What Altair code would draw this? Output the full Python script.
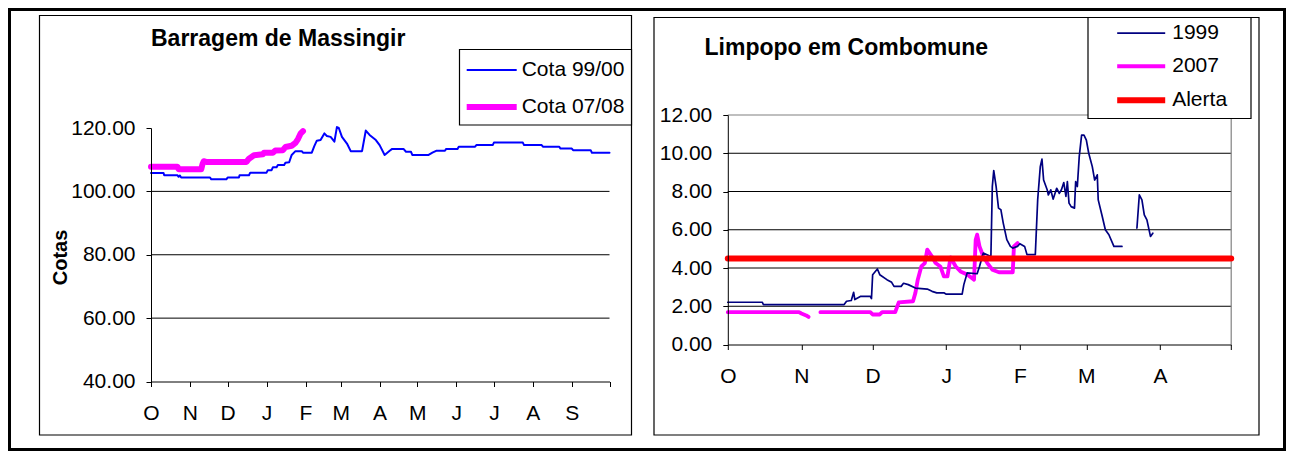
import json
import altair as alt
import pandas as pd

FONT = "Liberation Sans"

# ---------------- data : Barragem de Massingir (days from 1 Oct) ----------------
TITLE_LEFT = "Barragem de Massingir"
mass_month_labels = ["O", "N", "D", "J", "F", "M", "A", "M", "J", "J", "A", "S", ""]
mass_month_start = [0, 31, 61, 92, 123, 151, 182, 212, 243, 273, 304, 335, 365]
mass_y_ticks = [40, 60, 80, 100, 120]
mass_grid = [60, 80, 100]
mass_series = ["Cota 99/00", "Cota 07/08"]

cota9900_day = [0, 10, 10.5, 21, 22, 23, 24, 47, 48, 60, 61, 70, 70.5, 78, 79, 92, 93, 96, 97, 100,
                101, 106, 107, 110, 112, 115, 120, 121, 128, 130, 132, 135, 138, 140, 143, 146, 148,
                149.5, 152, 156, 159, 168, 171, 174, 179, 182, 186, 190, 192, 201, 203, 207, 208, 221,
                224, 227, 234, 235, 244, 245, 258, 259, 272, 273, 296, 297, 311, 312, 325, 326, 335,
                336, 350, 351, 365]
cota9900_val = [105.8, 105.8, 105.1, 105.1, 104.6, 105.0, 104.4, 104.4, 103.8, 103.8, 104.4, 104.4,
                105.1, 105.1, 105.9, 105.9, 106.7, 106.7, 107.6, 107.6, 108.3, 108.3, 109.0, 109.2,
                111.5, 112.7, 112.7, 112.2, 112.2, 114.3, 116.0, 116.2, 118.3, 117.5, 117.2, 115.7,
                120.3, 120.0, 117.2, 115.1, 112.7, 112.7, 119.2, 117.8, 116.2, 114.6, 111.5, 112.8,
                113.4, 113.4, 112.5, 112.5, 111.5, 111.5, 112.2, 112.8, 112.8, 113.4, 113.4, 114.1,
                114.1, 114.6, 114.6, 115.4, 115.4, 114.6, 114.6, 114.1, 114.1, 113.5, 113.5, 113.0,
                113.0, 112.2, 112.2]

cota0708_day = [0, 21, 22, 40, 41, 42, 44, 76, 78, 82, 89, 90, 97, 99, 105, 107, 112, 115, 117, 119, 121]
cota0708_val = [107.8, 107.8, 107.0, 107.0, 108.6, 109.5, 109.3, 109.3, 110.3, 111.4, 111.7, 112.2,
                112.2, 112.9, 113.0, 114.0, 114.4, 115.3, 116.5, 118.2, 119.0]

# ---------------- data : Limpopo em Combomune ----------------
TITLE_RIGHT = "Limpopo em Combomune"
comb_month_labels = ["O", "N", "D", "J", "F", "M", "A", ""]
comb_month_start = [0, 31, 61, 92, 123, 151, 182, 212]
comb_y_ticks = [0, 2, 4, 6, 8, 10, 12]
comb_grid = [2, 4, 6, 8, 10]
comb_series = ["1999", "2007", "Alerta"]

y1999_day = [0, 14.5, 15, 49, 50, 52, 53, 53.5, 56, 60, 60.5, 61, 63, 64, 67, 69, 70, 73, 74, 76,
             79, 84, 86, 88, 91, 92, 98.7, 99.4, 100.8, 105, 106, 107.6, 110.8, 111.4, 112, 113, 114,
             115, 116, 117.5, 119, 120, 122, 123, 125, 126, 129.5, 130.5, 131.6, 132.3, 133, 134.5,
             135, 136, 137, 138.5, 139.6, 140.5, 141.5, 142.4, 143, 143.7, 144.6, 146, 146.5, 147.2,
             148, 149, 150, 151, 152, 153.5, 154.5, 155.6, 156, 157.7, 159, 160.5, 162.6, 166,
             172.3, 173.3, 174.4, 175.4, 176.5, 178, 179]
y1999_val = [2.21, 2.21, 2.09, 2.09, 2.26, 2.30, 2.73, 2.35, 2.52, 2.52, 2.40, 3.65, 3.95, 3.65, 3.39,
             3.25, 3.04, 3.04, 3.20, 3.13, 2.95, 2.90, 2.78, 2.70, 2.70, 2.63, 2.63, 3.13, 3.74, 3.70,
             4.08, 4.78, 4.60, 8.26, 9.09, 8.26, 7.13, 7.05, 6.35, 5.48, 5.13, 5.04, 5.13, 5.27, 5.13,
             4.70, 4.70, 7.56, 9.30, 9.69, 8.60, 8.09, 7.82, 8.09, 7.60, 8.17, 7.90, 8.09, 8.47, 7.74,
             8.52, 7.39, 7.21, 7.13, 8.52, 8.26, 9.82, 10.95, 10.95, 10.69, 10.00, 9.30, 8.60, 8.87,
             7.56, 6.69, 6.00, 5.74, 5.13, 5.13,
             6.09, 7.82, 7.56, 6.78, 6.52, 5.65, 5.82]
y1999_seg = [0] * 80 + [1] * 7

y2007_day = [0, 30, 31, 33, 34,
             39, 60, 61, 64, 65, 70.5, 72, 78, 79, 80, 81.5, 83, 84, 86, 87.5, 89.5, 91, 92.5, 93.8,
             96, 98, 101, 103.7, 104.4, 105, 106, 107.6, 109.3, 111.4, 114.2, 120, 120.5, 122]
y2007_val = [1.69, 1.69, 1.62, 1.52, 1.44,
             1.69, 1.69, 1.57, 1.57, 1.69, 1.69, 2.20, 2.26, 2.70, 3.39, 4.08, 4.26, 4.96, 4.60, 4.26,
             4.08, 3.56, 3.56, 4.55, 4.08, 3.82, 3.65, 3.39, 5.48, 5.74, 5.13, 4.60, 4.26, 3.91, 3.78,
             3.78, 5.13, 5.30]
y2007_seg = [0] * 5 + [1] * 33

alerta_day = [0, 212]
alerta_val = [4.5, 4.5]


def series_df(days, vals, name, segs=None):
    n = len(days)
    return pd.DataFrame({"day": days, "val": vals, "series": [name] * n,
                         "seg": segs if segs is not None else [0] * n, "i": list(range(n))})


def month_expr(starts, labels):
    return f"{json.dumps(labels)}[indexof({json.dumps(starts)}, datum.value)]"


DUMMY = alt.Data(values=[{"k": 0}])


def box(x, x2, y, y2, sw=1.2, fill="white", fill_opacity=0.0, stroke=True):
    kw = dict(fill=fill, fillOpacity=fill_opacity)
    if stroke:
        kw.update(stroke="black", strokeWidth=sw)
    return alt.Chart(DUMMY).mark_rect(**kw).encode(
        x=alt.value(x), x2=alt.value(x2), y=alt.value(y), y2=alt.value(y2))


def title(text, x, y):
    return alt.Chart(alt.Data(values=[{"t": text}])).mark_text(
        align="left", baseline="alphabetic", font=FONT, fontSize=23, fontWeight="bold",
        color="black").encode(x=alt.value(x), y=alt.value(y), text="t:N")


AX = dict(labelFont=FONT, labelFontSize=21, labelColor="black", tickColor="black",
          domainColor="black", tickSize=5, tickWidth=1, domainWidth=1, grid=False,
          labelFlush=False, labelOverlap=False, zindex=1)

# ---------------- left panel (view = plot area) ----------------
LW, LH = 458.5, 266.5
L_X = alt.Scale(domain=[mass_month_start[0], mass_month_start[-1]], nice=False, zero=False)
L_Y = alt.Scale(domain=[mass_y_ticks[0], mass_y_ticks[-1]], range=[266.5, 13], nice=False, zero=False)
L_COLOR = alt.Scale(domain=mass_series, range=["#0000FF", "#FF00FF"])
L_SW = alt.Scale(domain=mass_series, range=[2, 6])
leg_l = alt.Legend(title=None, orient="none", legendX=313.7, legendY=-70,
                   symbolType="M-1.0417,0L1.0417,0", symbolSize=2304,
                   labelFontSize=21, labelFont=FONT, labelColor="black",
                   labelOffset=3, padding=0, rowPadding=0, zindex=1)

l_xaxis = alt.Axis(orient="bottom", values=mass_month_start,
                   labelExpr=month_expr(mass_month_start, mass_month_labels), title=None,
                   labelPadding=16, **AX)
l_yaxis = alt.Axis(orient="left", values=mass_y_ticks, format=".2f", title="Cotas",
                   titleX=-91, titleY=142, titleAngle=270, titleAlign="center", titleBaseline="middle",
                   titleFont=FONT, titleFontSize=20, titleFontWeight="bold", titleColor="black",
                   labelPadding=11, **AX)

df_lgrid = pd.DataFrame({"val": mass_grid, "d0": mass_month_start[0], "d1": mass_month_start[-1]})
l_grid = alt.Chart(df_lgrid).mark_rule(color="black", strokeWidth=1).encode(
    x=alt.X("d0:Q", scale=L_X, axis=l_xaxis), x2="d1:Q", y=alt.Y("val:Q", scale=L_Y, axis=l_yaxis))


def left_line(df):
    return alt.Chart(df).mark_line(strokeJoin="round", strokeCap="round").encode(
        x=alt.X("day:Q", scale=L_X, axis=l_xaxis),
        y=alt.Y("val:Q", scale=L_Y, axis=l_yaxis),
        color=alt.Color("series:N", scale=L_COLOR, legend=leg_l),
        strokeWidth=alt.StrokeWidth("series:N", scale=L_SW, legend=leg_l),
        order=alt.Order("i:Q"),
    )


left = alt.layer(
    box(-143, 1135, -107, 336, fill="black", fill_opacity=1, stroke=False),   # outer frame
    box(-140, 1132, -104, 333, fill="white", fill_opacity=1, stroke=False),
    box(-111.5, 480.5, -99.5, 320),                                           # panel box
    l_grid,
    left_line(series_df(cota9900_day, cota9900_val, mass_series[0])),
    left_line(series_df(cota0708_day, cota0708_val, mass_series[1])),
    box(308.5, 480.5, -65.5, 10, fill_opacity=1),                             # legend box
    title(TITLE_LEFT, 0, -69.3),
).properties(width=LW, height=LH)

# ---------------- right panel (view = plot area) ----------------
RW, RH = 503.4, 229.5
R_X = alt.Scale(domain=[comb_month_start[0], comb_month_start[-1]], nice=False, zero=False)
R_Y = alt.Scale(domain=[comb_y_ticks[0], comb_y_ticks[-1]], nice=False, zero=False)
R_COLOR = alt.Scale(domain=comb_series, range=["#000080", "#FF00FF", "#FF0000"])
R_SW = alt.Scale(domain=comb_series, range=[1.7, 6, 4])
leg_r = alt.Legend(title=None, orient="none", legendX=389.9, legendY=-103.3,
                   symbolType="M-1.171,0L1.171,0", symbolSize=1681,
                   labelFontSize=21, labelFont=FONT, labelColor="black",
                   labelOffset=7.5, padding=0, rowPadding=0, zindex=1)

r_xaxis = alt.Axis(orient="bottom", values=comb_month_start,
                   labelExpr=month_expr(comb_month_start, comb_month_labels), title=None,
                   labelPadding=16, **AX)
r_yaxis = alt.Axis(orient="left", values=comb_y_ticks, format=".2f", title=None,
                   labelPadding=11, **AX)

df_rgrid = pd.DataFrame({"val": comb_grid, "d0": comb_month_start[0], "d1": comb_month_start[-1]})
r_grid = alt.Chart(df_rgrid).mark_rule(color="black", strokeWidth=1).encode(
    x=alt.X("d0:Q", scale=R_X, axis=r_xaxis), x2="d1:Q", y=alt.Y("val:Q", scale=R_Y, axis=r_yaxis))
df_rtop = pd.DataFrame({"val": [comb_y_ticks[-1]], "d0": [comb_month_start[0]], "d1": [comb_month_start[-1]]})
r_top = alt.Chart(df_rtop).mark_rule(color="#808080", strokeWidth=1.2).encode(
    x=alt.X("d0:Q", scale=R_X, axis=r_xaxis), x2="d1:Q", y=alt.Y("val:Q", scale=R_Y, axis=r_yaxis))
df_rside = pd.DataFrame({"day": [comb_month_start[-1]], "v0": [comb_y_ticks[0]], "v1": [comb_y_ticks[-1]]})
r_side = alt.Chart(df_rside).mark_rule(color="#808080", strokeWidth=1.2).encode(
    x=alt.X("day:Q", scale=R_X, axis=r_xaxis), y=alt.Y("v0:Q", scale=R_Y, axis=r_yaxis), y2="v1:Q")


def right_line(df):
    return alt.Chart(df).mark_line(strokeJoin="round", strokeCap="round").encode(
        x=alt.X("day:Q", scale=R_X, axis=r_xaxis),
        y=alt.Y("val:Q", scale=R_Y, axis=r_yaxis),
        color=alt.Color("series:N", scale=R_COLOR, legend=leg_r),
        strokeWidth=alt.StrokeWidth("series:N", scale=R_SW, legend=leg_r),
        detail="seg:N",
        order=alt.Order("i:Q"),
    )


right = alt.layer(
    box(-73.8, 531.2, -97.5, 320),                                            # panel box
    r_grid, r_top, r_side,
    right_line(series_df(y2007_day, y2007_val, comb_series[1], y2007_seg)),
    right_line(series_df(y1999_day, y1999_val, comb_series[0], y1999_seg)),
    right_line(series_df(alerta_day, alerta_val, comb_series[2])),
    box(360.2, 523.2, -97.5, 3.5, fill_opacity=1),                            # legend box
    title(TITLE_RIGHT, -23.3, -60),
).properties(width=RW, height=RH)

chart = alt.hconcat(left, right, spacing=117.8, bounds="flush").resolve_scale(
    color="independent", strokeWidth="independent"
).properties(padding=0).configure_view(stroke=None)

chart.save("out.html", embed_options={"renderer": "svg", "actions": False})
